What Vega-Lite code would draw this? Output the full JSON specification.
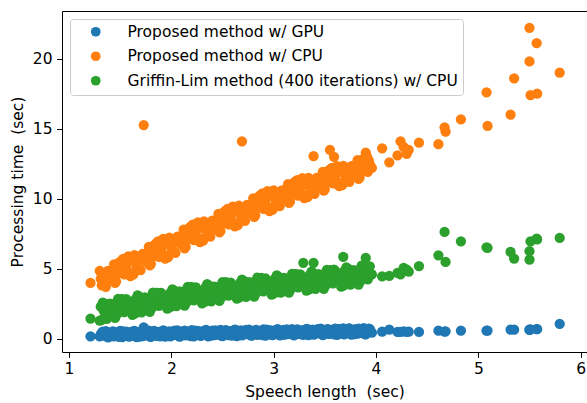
{
  "$schema": "https://vega.github.io/schema/vega-lite/v6.json",
  "width": 525,
  "height": 341,
  "autosize": {"type": "none"},
  "padding": {"left": 62, "top": 11, "right": 0, "bottom": 51},
  "background": "white",
  "config": {
    "view": {"stroke": null},
    "font": "DejaVu Sans",
    "axis": {
      "grid": false,
      "domainColor": "black",
      "domainWidth": 1,
      "tickColor": "black",
      "tickWidth": 1,
      "tickSize": 5.4,
      "labelColor": "black",
      "labelFont": "DejaVu Sans",
      "labelFontSize": 15.5,
      "labelPadding": 4.5,
      "titleColor": "black",
      "titleFont": "DejaVu Sans",
      "titleFontSize": 15.5,
      "titleFontWeight": "normal",
      "labelFlush": false,
      "labelOverlap": false,
      "labelBound": false
    }
  },
  "data": {
    "values": [
      {"x":1.21,"g":0.19,"c":4.00,"l":1.45},
      {"x":1.30,"g":0.18,"c":4.86,"l":1.30},
      {"x":1.32,"g":0.46,"c":3.83,"l":1.36},
      {"x":1.34,"g":0.28,"c":4.49,"l":2.01},
      {"x":1.36,"g":0.56,"c":3.72,"l":1.58},
      {"x":1.38,"g":0.11,"c":4.85,"l":1.81},
      {"x":1.40,"g":0.37,"c":4.50,"l":2.52},
      {"x":1.42,"g":0.51,"c":4.30,"l":2.43},
      {"x":1.44,"g":0.19,"c":5.33,"l":2.51},
      {"x":1.46,"g":0.47,"c":4.11,"l":2.42},
      {"x":1.48,"g":0.29,"c":5.06,"l":2.86},
      {"x":1.50,"g":0.57,"c":4.73,"l":2.35},
      {"x":1.52,"g":0.13,"c":5.41,"l":2.85},
      {"x":1.54,"g":0.38,"c":4.61,"l":1.92},
      {"x":1.56,"g":0.52,"c":5.16,"l":2.85},
      {"x":1.58,"g":0.20,"c":5.90,"l":2.33},
      {"x":1.60,"g":0.48,"c":4.49,"l":2.24},
      {"x":1.62,"g":0.30,"c":5.65,"l":1.72},
      {"x":1.64,"g":0.58,"c":5.99,"l":1.81},
      {"x":1.66,"g":0.14,"c":4.98,"l":1.89},
      {"x":1.68,"g":0.39,"c":5.67,"l":2.52},
      {"x":1.70,"g":0.53,"c":4.92,"l":2.07},
      {"x":1.72,"g":0.21,"c":6.07,"l":2.27},
      {"x":1.73,"g":0.82,"c":15.26,"l":2.50},
      {"x":1.74,"g":0.49,"c":5.75,"l":2.96},
      {"x":1.76,"g":0.31,"c":5.55,"l":2.86},
      {"x":1.78,"g":0.60,"c":6.57,"l":2.95},
      {"x":1.80,"g":0.15,"c":5.35,"l":2.85},
      {"x":1.82,"g":0.40,"c":6.31,"l":3.30},
      {"x":1.84,"g":0.54,"c":5.97,"l":2.79},
      {"x":1.86,"g":0.22,"c":6.65,"l":3.29},
      {"x":1.88,"g":0.50,"c":5.85,"l":2.36},
      {"x":1.90,"g":0.33,"c":6.40,"l":3.28},
      {"x":1.92,"g":0.61,"c":7.14,"l":2.77},
      {"x":1.94,"g":0.16,"c":5.73,"l":2.67},
      {"x":1.96,"g":0.41,"c":6.88,"l":2.16},
      {"x":1.98,"g":0.55,"c":7.23,"l":2.25},
      {"x":2.00,"g":0.23,"c":6.22,"l":2.33},
      {"x":2.02,"g":0.52,"c":6.90,"l":2.96},
      {"x":2.04,"g":0.34,"c":6.15,"l":2.50},
      {"x":2.06,"g":0.62,"c":7.31,"l":2.71},
      {"x":2.08,"g":0.17,"c":6.98,"l":3.39},
      {"x":2.10,"g":0.42,"c":6.78,"l":3.30},
      {"x":2.12,"g":0.56,"c":7.80,"l":3.38},
      {"x":2.14,"g":0.25,"c":6.57,"l":3.28},
      {"x":2.16,"g":0.53,"c":7.52,"l":3.72},
      {"x":2.18,"g":0.35,"c":7.18,"l":3.20},
      {"x":2.20,"g":0.63,"c":7.85,"l":3.70},
      {"x":2.22,"g":0.18,"c":7.05,"l":2.76},
      {"x":2.24,"g":0.43,"c":7.59,"l":3.68},
      {"x":2.26,"g":0.58,"c":8.32,"l":3.16},
      {"x":2.28,"g":0.26,"c":6.91,"l":3.06},
      {"x":2.30,"g":0.54,"c":8.06,"l":2.54},
      {"x":2.32,"g":0.36,"c":8.39,"l":2.62},
      {"x":2.34,"g":0.64,"c":7.38,"l":2.70},
      {"x":2.36,"g":0.19,"c":8.06,"l":3.32},
      {"x":2.38,"g":0.44,"c":7.30,"l":2.86},
      {"x":2.40,"g":0.59,"c":8.45,"l":3.06},
      {"x":2.42,"g":0.27,"c":8.12,"l":3.74},
      {"x":2.44,"g":0.55,"c":7.91,"l":3.64},
      {"x":2.46,"g":0.37,"c":8.93,"l":3.72},
      {"x":2.48,"g":0.65,"c":7.71,"l":3.62},
      {"x":2.50,"g":0.20,"c":8.65,"l":4.06},
      {"x":2.52,"g":0.46,"c":8.31,"l":3.54},
      {"x":2.54,"g":0.60,"c":8.99,"l":4.04},
      {"x":2.56,"g":0.28,"c":8.18,"l":3.10},
      {"x":2.58,"g":0.56,"c":8.72,"l":4.02},
      {"x":2.60,"g":0.38,"c":9.45,"l":3.50},
      {"x":2.62,"g":0.66,"c":8.04,"l":3.40},
      {"x":2.64,"g":0.21,"c":9.18,"l":2.88},
      {"x":2.66,"g":0.47,"c":9.51,"l":2.95},
      {"x":2.68,"g":0.61,"c":8.50,"l":3.03},
      {"x":2.69,"g":0.45,"c":14.10,"l":3.30},
      {"x":2.70,"g":0.29,"c":9.17,"l":3.65},
      {"x":2.72,"g":0.57,"c":8.42,"l":3.19},
      {"x":2.74,"g":0.39,"c":9.56,"l":3.38},
      {"x":2.76,"g":0.67,"c":9.23,"l":4.06},
      {"x":2.78,"g":0.23,"c":9.02,"l":3.96},
      {"x":2.80,"g":0.48,"c":10.04,"l":4.04},
      {"x":2.82,"g":0.62,"c":8.81,"l":3.93},
      {"x":2.84,"g":0.30,"c":9.75,"l":4.37},
      {"x":2.86,"g":0.58,"c":9.41,"l":3.85},
      {"x":2.88,"g":0.41,"c":10.08,"l":4.35},
      {"x":2.90,"g":0.69,"c":9.28,"l":3.40},
      {"x":2.92,"g":0.24,"c":9.81,"l":4.32},
      {"x":2.94,"g":0.49,"c":10.55,"l":3.80},
      {"x":2.96,"g":0.63,"c":9.13,"l":3.70},
      {"x":2.98,"g":0.31,"c":10.28,"l":3.17},
      {"x":3.00,"g":0.59,"c":10.61,"l":3.25},
      {"x":3.02,"g":0.42,"c":9.58,"l":3.33},
      {"x":3.04,"g":0.70,"c":10.24,"l":3.94},
      {"x":3.06,"g":0.25,"c":9.48,"l":3.48},
      {"x":3.08,"g":0.50,"c":10.61,"l":3.67},
      {"x":3.10,"g":0.64,"c":10.26,"l":4.35},
      {"x":3.12,"g":0.32,"c":10.04,"l":4.25},
      {"x":3.14,"g":0.61,"c":11.04,"l":4.32},
      {"x":3.16,"g":0.43,"c":9.81,"l":4.22},
      {"x":3.18,"g":0.71,"c":10.74,"l":4.65},
      {"x":3.20,"g":0.26,"c":10.38,"l":4.13},
      {"x":3.22,"g":0.51,"c":11.04,"l":4.63},
      {"x":3.24,"g":0.65,"c":10.22,"l":3.68},
      {"x":3.26,"g":0.34,"c":10.75,"l":4.60},
      {"x":3.28,"g":0.62,"c":11.47,"l":4.07},
      {"x":3.29,"g":0.40,"c":11.00,"l":5.43},
      {"x":3.30,"g":0.44,"c":10.04,"l":3.97},
      {"x":3.32,"g":0.72,"c":11.17,"l":3.45},
      {"x":3.34,"g":0.27,"c":11.49,"l":3.52},
      {"x":3.36,"g":0.53,"c":10.47,"l":3.60},
      {"x":3.38,"g":0.67,"c":11.13,"l":4.21},
      {"x":3.39,"g":0.45,"c":13.04,"l":5.43},
      {"x":3.40,"g":0.35,"c":10.36,"l":3.75},
      {"x":3.42,"g":0.63,"c":11.49,"l":3.95},
      {"x":3.44,"g":0.45,"c":11.14,"l":4.62},
      {"x":3.46,"g":0.73,"c":10.93,"l":4.52},
      {"x":3.48,"g":0.28,"c":11.93,"l":4.59},
      {"x":3.50,"g":0.54,"c":10.69,"l":4.49},
      {"x":3.52,"g":0.68,"c":11.62,"l":4.93},
      {"x":3.54,"g":0.36,"c":11.26,"l":4.41},
      {"x":3.55,"g":0.50,"c":13.50,"l":4.90},
      {"x":3.56,"g":0.64,"c":11.92,"l":4.90},
      {"x":3.58,"g":0.46,"c":11.10,"l":3.96},
      {"x":3.59,"g":0.40,"c":13.00,"l":4.95},
      {"x":3.60,"g":0.74,"c":11.61,"l":4.88},
      {"x":3.62,"g":0.30,"c":12.33,"l":4.36},
      {"x":3.64,"g":0.55,"c":10.90,"l":4.25},
      {"x":3.66,"g":0.69,"c":12.03,"l":3.73},
      {"x":3.68,"g":0.37,"c":12.35,"l":3.81},
      {"x":3.68,"g":0.75,"c":12.20,"l":5.86},
      {"x":3.70,"g":0.65,"c":11.32,"l":3.89},
      {"x":3.72,"g":0.47,"c":11.98,"l":4.51},
      {"x":3.74,"g":0.75,"c":11.21,"l":4.04},
      {"x":3.76,"g":0.31,"c":12.34,"l":4.24},
      {"x":3.78,"g":0.56,"c":11.98,"l":4.92},
      {"x":3.80,"g":0.70,"c":11.76,"l":4.82},
      {"x":3.82,"g":0.38,"c":12.76,"l":4.90},
      {"x":3.84,"g":0.66,"c":11.52,"l":4.79},
      {"x":3.86,"g":0.49,"c":12.45,"l":5.23},
      {"x":3.88,"g":0.77,"c":12.09,"l":4.71},
      {"x":3.90,"g":0.32,"c":12.75,"l":5.21},
      {"x":3.90,"g":0.50,"c":13.30,"l":5.78},
      {"x":3.92,"g":0.57,"c":11.93,"l":4.26},
      {"x":3.94,"g":0.71,"c":12.45,"l":5.18},
      {"x":1.31,"g":0.32,"c":4.28,"l":2.30},
      {"x":1.33,"g":0.53,"c":3.93,"l":2.59},
      {"x":1.35,"g":0.22,"c":4.52,"l":2.52},
      {"x":1.37,"g":0.42,"c":4.70,"l":1.43},
      {"x":1.39,"g":0.15,"c":4.82,"l":1.84},
      {"x":1.41,"g":0.33,"c":4.27,"l":2.35},
      {"x":1.43,"g":0.54,"c":4.68,"l":1.78},
      {"x":1.45,"g":0.23,"c":4.00,"l":1.50},
      {"x":1.47,"g":0.43,"c":4.62,"l":1.77},
      {"x":1.49,"g":0.15,"c":5.44,"l":2.58},
      {"x":1.51,"g":0.34,"c":5.58,"l":2.84},
      {"x":1.53,"g":0.55,"c":5.72,"l":2.15},
      {"x":1.55,"g":0.24,"c":5.45,"l":2.35},
      {"x":1.57,"g":0.44,"c":5.59,"l":2.62},
      {"x":1.59,"g":0.16,"c":4.73,"l":2.46},
      {"x":1.61,"g":0.34,"c":4.66,"l":2.37},
      {"x":1.63,"g":0.56,"c":4.60,"l":1.86},
      {"x":1.65,"g":0.25,"c":5.42,"l":2.84},
      {"x":1.67,"g":0.45,"c":5.09,"l":3.11},
      {"x":1.69,"g":0.17,"c":5.70,"l":3.01},
      {"x":1.71,"g":0.35,"c":5.91,"l":1.90},
      {"x":1.73,"g":0.56,"c":6.05,"l":2.28},
      {"x":1.75,"g":0.26,"c":5.51,"l":2.79},
      {"x":1.77,"g":0.46,"c":5.92,"l":2.22},
      {"x":1.79,"g":0.18,"c":5.25,"l":1.94},
      {"x":1.81,"g":0.36,"c":5.86,"l":2.21},
      {"x":1.83,"g":0.57,"c":6.68,"l":3.01},
      {"x":1.85,"g":0.26,"c":6.82,"l":3.28},
      {"x":1.87,"g":0.46,"c":6.96,"l":2.58},
      {"x":1.89,"g":0.18,"c":6.69,"l":2.79},
      {"x":1.91,"g":0.37,"c":6.83,"l":3.06},
      {"x":1.93,"g":0.58,"c":5.96,"l":2.90},
      {"x":1.95,"g":0.27,"c":5.90,"l":2.81},
      {"x":1.97,"g":0.47,"c":5.84,"l":2.29},
      {"x":1.99,"g":0.19,"c":6.65,"l":3.28},
      {"x":2.01,"g":0.38,"c":6.32,"l":3.54},
      {"x":2.03,"g":0.59,"c":6.94,"l":3.45},
      {"x":2.05,"g":0.28,"c":7.14,"l":2.34},
      {"x":2.07,"g":0.48,"c":7.28,"l":2.72},
      {"x":2.09,"g":0.20,"c":6.74,"l":3.23},
      {"x":2.11,"g":0.38,"c":7.15,"l":2.65},
      {"x":2.13,"g":0.60,"c":6.47,"l":2.37},
      {"x":2.15,"g":0.29,"c":7.08,"l":2.63},
      {"x":2.17,"g":0.49,"c":7.89,"l":3.43},
      {"x":2.19,"g":0.21,"c":8.03,"l":3.69},
      {"x":2.21,"g":0.39,"c":8.16,"l":2.99},
      {"x":2.23,"g":0.60,"c":7.88,"l":3.19},
      {"x":2.25,"g":0.30,"c":8.02,"l":3.45},
      {"x":2.27,"g":0.50,"c":7.15,"l":3.29},
      {"x":2.29,"g":0.22,"c":7.07,"l":3.19},
      {"x":2.31,"g":0.40,"c":7.01,"l":2.67},
      {"x":2.33,"g":0.61,"c":7.82,"l":3.65},
      {"x":2.35,"g":0.30,"c":7.48,"l":3.91},
      {"x":2.37,"g":0.51,"c":8.09,"l":3.81},
      {"x":2.39,"g":0.23,"c":8.29,"l":2.69},
      {"x":2.41,"g":0.41,"c":8.42,"l":3.07},
      {"x":2.43,"g":0.62,"c":7.88,"l":3.57},
      {"x":2.45,"g":0.31,"c":8.29,"l":2.99},
      {"x":2.47,"g":0.51,"c":7.60,"l":2.71},
      {"x":2.49,"g":0.24,"c":8.21,"l":2.97},
      {"x":2.51,"g":0.42,"c":9.03,"l":3.77},
      {"x":2.53,"g":0.63,"c":9.16,"l":4.03},
      {"x":2.55,"g":0.32,"c":9.29,"l":3.33},
      {"x":2.57,"g":0.52,"c":9.01,"l":3.53},
      {"x":2.59,"g":0.24,"c":9.15,"l":3.79},
      {"x":2.61,"g":0.42,"c":8.27,"l":3.63},
      {"x":2.63,"g":0.64,"c":8.20,"l":3.53},
      {"x":2.65,"g":0.33,"c":8.13,"l":3.00},
      {"x":2.67,"g":0.53,"c":8.94,"l":3.98},
      {"x":2.69,"g":0.25,"c":8.60,"l":4.24},
      {"x":2.71,"g":0.43,"c":9.21,"l":4.14},
      {"x":2.73,"g":0.65,"c":9.40,"l":3.01},
      {"x":2.75,"g":0.34,"c":9.53,"l":3.39},
      {"x":2.77,"g":0.54,"c":8.99,"l":3.89},
      {"x":2.79,"g":0.26,"c":9.39,"l":3.31},
      {"x":2.81,"g":0.44,"c":8.71,"l":3.02},
      {"x":2.83,"g":0.65,"c":9.31,"l":3.28},
      {"x":2.85,"g":0.34,"c":10.13,"l":4.08},
      {"x":2.87,"g":0.55,"c":10.26,"l":4.34},
      {"x":2.89,"g":0.27,"c":10.39,"l":3.63},
      {"x":2.91,"g":0.45,"c":10.11,"l":3.83},
      {"x":2.93,"g":0.66,"c":10.24,"l":4.09},
      {"x":2.95,"g":0.35,"c":9.37,"l":3.93},
      {"x":2.97,"g":0.56,"c":9.29,"l":3.82},
      {"x":2.99,"g":0.28,"c":9.23,"l":3.30},
      {"x":3.01,"g":0.46,"c":10.03,"l":4.28},
      {"x":3.03,"g":0.67,"c":9.68,"l":4.53},
      {"x":3.05,"g":0.36,"c":10.27,"l":4.43},
      {"x":3.07,"g":0.57,"c":10.45,"l":3.31},
      {"x":3.09,"g":0.29,"c":10.57,"l":3.68},
      {"x":3.11,"g":0.47,"c":10.02,"l":4.18},
      {"x":3.13,"g":0.68,"c":10.41,"l":3.59},
      {"x":3.15,"g":0.37,"c":9.71,"l":3.31},
      {"x":3.17,"g":0.57,"c":10.30,"l":3.57},
      {"x":3.19,"g":0.29,"c":11.10,"l":4.36},
      {"x":3.21,"g":0.48,"c":11.23,"l":4.62},
      {"x":3.23,"g":0.69,"c":11.34,"l":3.91},
      {"x":3.25,"g":0.38,"c":11.05,"l":4.11},
      {"x":3.27,"g":0.58,"c":11.17,"l":4.37},
      {"x":3.29,"g":0.30,"c":10.28,"l":4.20},
      {"x":3.31,"g":0.48,"c":10.20,"l":4.10},
      {"x":3.33,"g":0.70,"c":10.12,"l":3.57},
      {"x":3.35,"g":0.39,"c":10.91,"l":4.55},
      {"x":3.37,"g":0.59,"c":10.56,"l":4.81},
      {"x":3.39,"g":0.31,"c":11.15,"l":4.70},
      {"x":3.41,"g":0.49,"c":11.34,"l":3.58},
      {"x":3.43,"g":0.70,"c":11.46,"l":3.95},
      {"x":3.45,"g":0.40,"c":10.90,"l":4.45},
      {"x":3.47,"g":0.60,"c":11.29,"l":3.87},
      {"x":3.49,"g":0.32,"c":10.59,"l":3.58},
      {"x":3.51,"g":0.50,"c":11.19,"l":3.84},
      {"x":3.53,"g":0.71,"c":11.98,"l":4.64},
      {"x":3.55,"g":0.40,"c":12.10,"l":4.90},
      {"x":3.57,"g":0.61,"c":12.21,"l":4.19},
      {"x":3.59,"g":0.33,"c":11.92,"l":4.39},
      {"x":3.61,"g":0.51,"c":12.04,"l":4.65},
      {"x":3.63,"g":0.72,"c":11.15,"l":4.49},
      {"x":3.65,"g":0.41,"c":11.06,"l":4.38},
      {"x":3.67,"g":0.61,"c":10.98,"l":3.86},
      {"x":3.69,"g":0.33,"c":11.77,"l":4.84},
      {"x":3.71,"g":0.52,"c":11.41,"l":5.10},
      {"x":3.73,"g":0.73,"c":12.00,"l":5.00},
      {"x":3.75,"g":0.42,"c":12.18,"l":3.87},
      {"x":3.77,"g":0.62,"c":12.30,"l":4.25},
      {"x":3.79,"g":0.34,"c":11.74,"l":4.75},
      {"x":3.81,"g":0.52,"c":12.13,"l":4.17},
      {"x":3.83,"g":0.74,"c":11.43,"l":3.88},
      {"x":3.85,"g":0.43,"c":12.02,"l":4.14},
      {"x":3.87,"g":0.63,"c":12.82,"l":4.94},
      {"x":3.89,"g":0.35,"c":12.93,"l":5.20},
      {"x":3.91,"g":0.53,"c":13.04,"l":4.50},
      {"x":3.93,"g":0.74,"c":12.75,"l":4.69},
      {"x":3.96,"g":0.45,"c":12.20,"l":4.60},
      {"x":4.06,"g":0.52,"c":13.60,"l":4.47},
      {"x":4.13,"g":0.66,"c":12.60,"l":4.50},
      {"x":4.21,"g":0.50,"c":13.10,"l":4.71},
      {"x":4.24,"g":0.50,"c":14.10,"l":4.60},
      {"x":4.27,"g":0.55,"c":13.70,"l":5.07},
      {"x":4.30,"g":0.50,"c":13.20,"l":4.95},
      {"x":4.32,"g":0.52,"c":13.50,"l":4.80},
      {"x":4.42,"g":0.50,"c":14.00,"l":5.19},
      {"x":4.61,"g":0.59,"c":13.90,"l":5.97},
      {"x":4.67,"g":0.52,"c":15.10,"l":7.64},
      {"x":4.68,"g":0.55,"c":14.80,"l":5.50},
      {"x":4.83,"g":0.59,"c":15.66,"l":6.97},
      {"x":5.08,"g":0.59,"c":17.60,"l":6.54},
      {"x":5.09,"g":0.60,"c":15.20,"l":6.50},
      {"x":5.315,"g":0.66,"c":16.00,"l":6.21},
      {"x":5.35,"g":0.66,"c":18.60,"l":5.74},
      {"x":5.50,"g":0.66,"c":22.20,"l":5.66},
      {"x":5.50,"g":0.64,"c":19.80,"l":6.26},
      {"x":5.51,"g":0.68,"c":17.40,"l":6.97},
      {"x":5.57,"g":0.71,"c":21.10,"l":7.16},
      {"x":5.575,"g":0.70,"c":17.50,"l":7.10},
      {"x":5.795,"g":1.07,"c":19.00,"l":7.21}
    ]
  },
  "transform": [{"fold": ["g", "c", "l"], "as": ["series", "y"]}],
  "resolve": {"axis": {"x": "independent"}},
  "layer": [
    {
      "mark": {"type": "circle", "size": 105, "opacity": 1},
      "encoding": {
        "x": {
          "field": "x", "type": "quantitative",
          "scale": {"domain": [0.9316, 6.062], "nice": false, "zero": false},
          "axis": {"values": [1, 2, 3, 4, 5, 6], "title": "Speech length\u00a0 (sec)", "titlePadding": 7}
        },
        "y": {
          "field": "y", "type": "quantitative",
          "scale": {"domain": [-0.93, 23.40], "nice": false, "zero": false},
          "axis": {"values": [0, 5, 10, 15, 20], "title": "Processing time\u00a0 (sec)", "titlePadding": 7}
        },
        "color": {
          "field": "series", "type": "nominal",
          "scale": {"domain": ["g", "c", "l"], "range": ["#1f77b4", "#ff7f0e", "#2ca02c"]},
          "legend": {
            "title": null,
            "orient": "top-left",
            "offset": 8,
            "fillColor": "white",
            "strokeColor": "#cccccc",
            "cornerRadius": 3,
            "padding": 5,
            "symbolOffset": 13,
            "labelOffset": 24,
            "labelFont": "DejaVu Sans",
            "labelFontSize": 15.5,
            "labelColor": "black",
            "labelLimit": 1000,
            "symbolType": "circle",
            "symbolSize": 95,
            "symbolStrokeWidth": 0,
            "symbolOpacity": 1,
            "rowPadding": 7.5,
            "labelExpr": "datum.label == 'g' ? 'Proposed method w/ GPU' : datum.label == 'c' ? 'Proposed method w/ CPU' : 'Griffin-Lim method (400 iterations) w/ CPU'"
          }
        }
      }
    },
    {
      "mark": {"type": "circle", "opacity": 0},
      "encoding": {
        "x": {
          "field": "x", "type": "quantitative",
          "scale": {"domain": [0.9316, 6.062], "nice": false, "zero": false},
          "axis": {"orient": "top", "labels": false, "ticks": false, "title": null, "domain": true}
        }
      }
    }
  ]
}
